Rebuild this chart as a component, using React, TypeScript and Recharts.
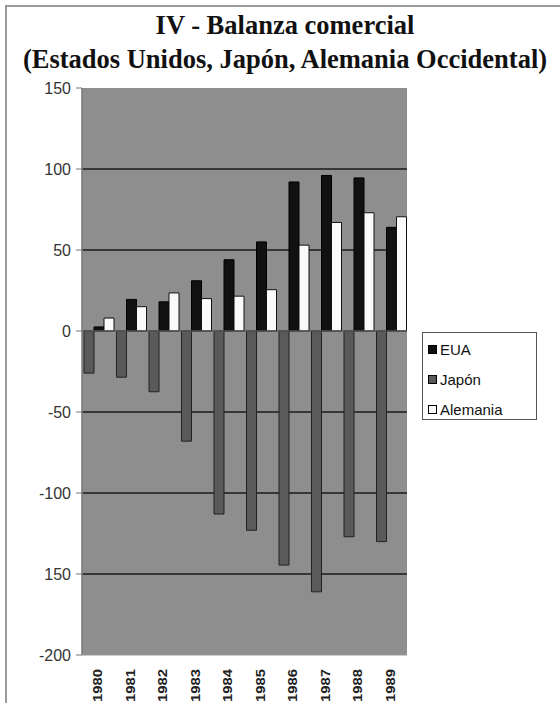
import React from "react";
import {
  BarChart,
  Bar,
  XAxis,
  YAxis,
  CartesianGrid,
  ReferenceLine,
  Legend,
} from "recharts";

const years = ["1980", "1981", "1982", "1983", "1984", "1985", "1986", "1987", "1988", "1989"];
const eua = [2.5, 19.5, 18, 31, 44, 55, 92, 96, 94.5, 64];
const japon = [-26, -28.5, -37.5, -68, -113, -123, -144.5, -161, -127, -130];
const alemania = [8, 15, 23.5, 20, 21.5, 25.5, 53, 67, 73, 70.5];

const yTicks = [-200, -150, -100, -50, 0, 50, 100, 150];
// the original prints "150" for -150
const yTickLabels = ["-200", "150", "-100", "-50", "0", "50", "100", "150"];

const seriesNames = ["EUA", "Japón", "Alemania"];
const seriesColors = ["#111111", "#5a5a5a", "#fafafa"];

const data = years.map((year, i) => ({
  year,
  EUA: eua[i],
  Japon: japon[i],
  Alemania: alemania[i],
}));

const YearTick = (props: any) => {
  const { x, y, payload } = props;
  const ty = y + 6;
  return (
    <text
      x={x}
      y={ty}
      transform={`rotate(-90, ${x}, ${ty})`}
      textAnchor="end"
      dy="0.35em"
      fontSize={12}
      fontWeight="bold"
      fill="#222"
      textLength={33}
      lengthAdjust="spacingAndGlyphs"
      fontFamily="Liberation Sans, Arial, sans-serif"
    >
      {payload.value}
    </text>
  );
};

const LegendBox = () => (
  <div
    style={{
      width: 115,
      height: 88,
      border: "1.5px solid #555",
      background: "#fff",
      fontFamily: "Liberation Sans, Arial, sans-serif",
      fontSize: 15,
      color: "#111",
      boxSizing: "border-box",
      paddingTop: 1,
    }}
  >
    {seriesNames.map((name, i) => (
      <div key={name} style={{ display: "flex", alignItems: "center", height: 30, paddingLeft: 5 }}>
        <span
          style={{
            width: 7,
            height: 7,
            background: seriesColors[i],
            border: "1px solid #000",
            marginRight: 3,
            display: "inline-block",
          }}
        />
        {name}
      </div>
    ))}
  </div>
);

export default function App() {
  return (
    <div style={{ position: "absolute", left: 0, top: 0, width: 560, height: 703, background: "#fff", overflow: "hidden" }}>
      <div
        style={{
          position: "absolute",
          left: 5,
          top: 5,
          width: 560,
          height: 710,
          borderLeft: "2px solid #9a9a9a",
          borderTop: "2px solid #9a9a9a",
        }}
      />
      <div
        style={{
          position: "absolute",
          left: 0,
          top: 8,
          width: 570,
          textAlign: "center",
          fontFamily: "Liberation Serif, Times New Roman, serif",
          fontWeight: "bold",
          fontSize: 26.5,
          lineHeight: "34px",
          color: "#111",
          whiteSpace: "nowrap",
        }}
      >
        <div>IV - Balanza comercial</div>
        <div>(Estados Unidos, Japón, Alemania Occidental)</div>
      </div>
      <div style={{ position: "absolute", left: 0, top: 0 }}>
        <BarChart
          width={560}
          height={703}
          data={data}
          margin={{ top: 88, right: 153, bottom: 0, left: 0 }}
          barCategoryGap={2}
          barGap={0}
        >
          <CartesianGrid
            fill="#8e8e8e"
            vertical={false}
            horizontalValues={[100, 50, -50, -100, -150]}
            stroke="#1a1a1a"
            strokeWidth={1.5}
          />
          <XAxis
            dataKey="year"
            axisLine={{ stroke: "#999" }}
            tickLine={false}
            tick={<YearTick />}
            interval={0}
            height={48}
          />
          <YAxis
            domain={[-200, 150]}
            ticks={yTicks}
            tickFormatter={(v: number) => yTickLabels[yTicks.indexOf(v)]}
            width={82}
            axisLine={{ stroke: "#777", strokeWidth: 1.5 }}
            tickLine={{ stroke: "#777" }}
            tickSize={6}
            tickMargin={5}
            tick={{ fill: "#333", fontSize: 16, fontFamily: "Liberation Sans, Arial, sans-serif" }}
          />
          <ReferenceLine y={0} stroke="#555" strokeWidth={1.5} />
          <Bar dataKey="Japon" name="Japón" fill={seriesColors[1]} stroke="#222" strokeWidth={1} isAnimationActive={false} />
          <Bar dataKey="EUA" name="EUA" fill={seriesColors[0]} stroke="#000" strokeWidth={1} isAnimationActive={false} />
          <Bar dataKey="Alemania" name="Alemania" fill={seriesColors[2]} stroke="#111" strokeWidth={1} isAnimationActive={false} />
          <Legend
            layout="horizontal"
            verticalAlign="middle"
            align="center"
            content={<LegendBox />}
            wrapperStyle={{ position: "absolute", left: 422, top: 332, width: 115, height: 88 }}
          />
        </BarChart>
      </div>
    </div>
  );
}
